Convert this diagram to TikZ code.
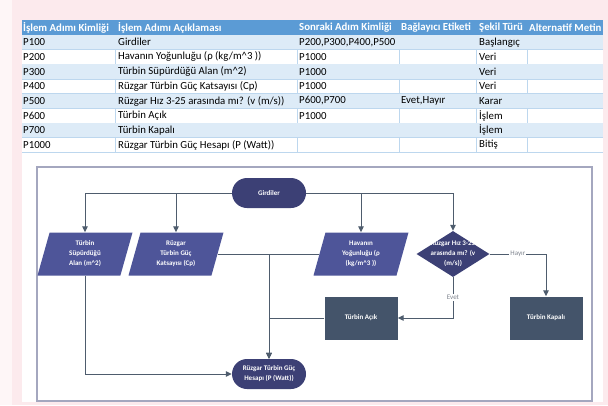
\documentclass[tikz,border=0pt]{standalone}
\usepackage{fontspec}
\setmainfont{Carlito}
\usepackage{xcolor}
\usetikzlibrary{shapes.geometric,arrows.meta,positioning,calc}

\definecolor{pagepink}{HTML}{FCEAED}
\definecolor{stripwhite}{HTML}{FEF6F7}
\definecolor{headblue}{HTML}{5B9BD5}
\definecolor{rowblue}{HTML}{DDEBF7}
\definecolor{gridblue}{HTML}{BDD7EE}
\definecolor{termcol}{HTML}{3C4075}
\definecolor{datacol}{HTML}{4E5599}
\definecolor{proccol}{HTML}{44546A}
\definecolor{linkcol}{HTML}{4E5C6D}
\definecolor{framecol}{HTML}{A4A7BF}
\definecolor{labelgray}{HTML}{7F848E}

\tikzset{
  cell/.style={anchor=west, inner sep=0pt, font=\fontsize{10.8}{12}\selectfont},
  headcell/.style={cell, text=white, font=\fontsize{10.8}{12}\selectfont\bfseries},
  boxtext/.style={text=white, align=center, inner sep=0pt, font=\fontsize{7}{10}\selectfont\bfseries},
  terminal/.style={boxtext, fill=termcol, rounded corners=15pt, minimum width=74pt, minimum height=30pt},
  databox/.style={boxtext, fill=datacol, trapezium, trapezium left angle=65, trapezium right angle=115,
    trapezium stretches body, minimum width=95pt, minimum height=43pt},
  decision/.style={fill=termcol, diamond, minimum width=73pt, minimum height=46pt, inner sep=0pt},
  process/.style={boxtext, fill=proccol, minimum width=73pt, minimum height=43pt},
  link/.style={draw=linkcol, line width=1pt, -{Triangle[length=6pt,width=5.5pt]}},
  edgelabel/.style={fill=white, text=labelgray, inner sep=1pt, font=\fontsize{7}{8}\selectfont}
}

\begin{document}
\begin{tikzpicture}[x=1pt, y=-1pt]
\useasboundingbox (0,0) rectangle (608,405);
% Background
\fill[pagepink] (0,0) rectangle (608,405);
\fill[stripwhite] (0,0) rectangle (12,405);
\fill[white] (22,20) rectangle (603,402);

% Table header
\fill[headblue] (22,20) rectangle (603,34.7);
\foreach \x/\head in {23/{İşlem Adımı Kimliği}, 118/{İşlem Adımı Açıklaması}, 299/{Sonraki Adım Kimliği},
  401/{Bağlayıcı Etiketi}, 479/{Şekil Türü}, 529/{Alternatif Metin}}{
  \node[headcell] at (\x, 27.5) {\head};
}
% Table rows
\foreach \stepid/\stepdesc/\nextid/\connlabel/\shapekind [count=\r] in {
  P100/{Girdiler}/{P200,P300,P400,P500}/{}/{Başlangıç},
  P200/{Havanın Yoğunluğu (ρ (kg/m\textasciicircum 3 ))}/{P1000}/{}/{Veri},
  P300/{Türbin Süpürdüğü Alan (m\textasciicircum 2)}/{P1000}/{}/{Veri},
  P400/{Rüzgar Türbin Güç Katsayısı (Cp)}/{P1000}/{}/{Veri},
  P500/{Rüzgar Hız 3-25 arasında mı? (v (m/s))}/{P600,P700}/{Evet,Hayır}/{Karar},
  P600/{Türbin Açık}/{P1000}/{}/{İşlem},
  P700/{Türbin Kapalı}/{}/{}/{İşlem},
  P1000/{Rüzgar Türbin Güç Hesapı (P (Watt))}/{}/{}/{Bitiş}
}{
  \pgfmathsetmacro{\ytop}{20+14.7*\r}
  \ifodd\r
    \fill[rowblue] (22,\ytop) rectangle (603,\ytop+14.7);
  \else
    \foreach \x in {115,297,399,476,527}{
      \draw[gridblue, line width=0.6pt] (\x,\ytop) -- (\x,\ytop+14.7);
    }
  \fi
  \draw[gridblue, line width=0.6pt] (22,\ytop+14.7) -- (603,\ytop+14.7);
  \node[cell] at (23, \ytop+7.5) {\stepid};
  \node[cell] at (118, \ytop+7.5) {\stepdesc};
  \node[cell] at (299, \ytop+7.5) {\nextid};
  \node[cell] at (401, \ytop+7.5) {\connlabel};
  \node[cell] at (479, \ytop+7.5) {\shapekind};
}

% Flowchart frame
\draw[framecol, line width=1.2pt, fill=white] (37,167) rectangle (592,401);

% Shapes
\node[terminal] (p100) at (269,193) {Girdiler};
\node[databox] (p300) at (85,254) {Türbin\\Süpürdüğü\\Alan (m\textasciicircum 2)};
\node[databox] (p400) at (176,254) {Rüzgar\\Türbin Güç\\Katsayısı (Cp)};
\node[databox] (p200) at (361,254) {Havanın\\Yoğunluğu (ρ\\(kg/m\textasciicircum 3 ))};
\node[decision] (p500) at (453,254) {};
\node[boxtext] (p500text) at (p500) {Rüzgar Hız 3-25\\arasında mı? (v\\(m/s))};
\node[process] (p600) at (361,318) {Türbin Açık};
\node[process] (p700) at (546,318) {Türbin Kapalı};
\node[terminal] (p1000) at (269,374) {Rüzgar Türbin Güç\\Hesapı (P (Watt))};

% Connectors
\draw[link] (p100.west) -| (p300.north);
\draw[link] (p100.west) -| (p400.north);
\draw[link] (p100.east) -| (p200.north);
\draw[link] (p100.east) -| (p500.north);
\draw[link] (p300.south) |- (p1000.west);
\draw[link] (p400.east) -| (p1000.north);
\draw[link] (p200.west) -| (p1000.north);
\draw[link] (p600.west) -| (p1000.north);
\draw[link] (p500.south) |- node[pos=0.25, edgelabel] (evet) {Evet} (p600.east);
\draw[link] (p500.east) -| node[pos=0.25, edgelabel] (hayir) {Hayır} (p700.north);
\end{tikzpicture}
\end{document}
